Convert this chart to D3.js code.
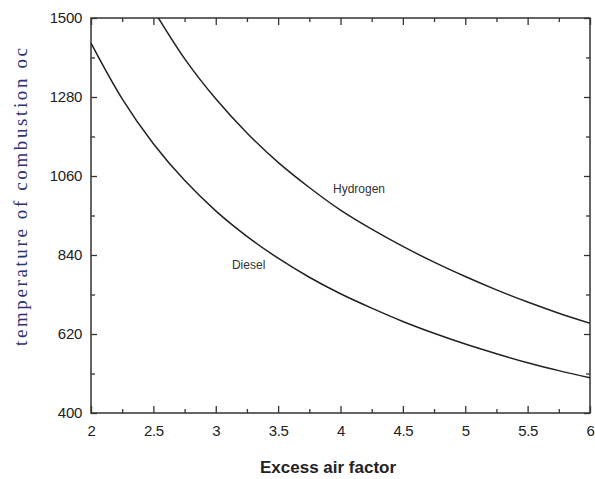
<!DOCTYPE html>
<html>
<head>
<meta charset="utf-8">
<title>Combustion temperature</title>
<script src="https://d3js.org/d3.v7.min.js"></script>
<style>
  body { margin: 0; background: #fff; }
  svg text { font-family: "Liberation Sans", Arial, sans-serif; }
</style>
</head>
<body>
<svg id="chart" width="595" height="479"></svg>
<script>
// excess air factor (lambda) read at quarter steps
var lambdaDiesel = [2, 2.25, 2.5, 2.75, 3, 3.25, 3.5, 3.75, 4, 4.25, 4.5, 4.75, 5, 5.25, 5.5, 5.75, 6];
var tempDiesel   = [1430, 1275, 1150, 1048, 963, 892, 831, 778, 732, 692, 655, 622, 592, 565, 540, 518, 498];

var lambdaHydrogen = [2.5, 2.75, 3, 3.25, 3.5, 3.75, 4, 4.25, 4.5, 4.75, 5, 5.25, 5.5, 5.75, 6];
var tempHydrogen   = [1523, 1387, 1275, 1180, 1098, 1028, 965, 912, 864, 820, 780, 743, 709, 678, 650];

var xTicks = [2, 2.5, 3, 3.5, 4, 4.5, 5, 5.5, 6];
var yTicks = [400, 620, 840, 1060, 1280, 1500];

var margin = {top: 18, left: 91, right: 5, bottom: 66};
var width = 595 - margin.left - margin.right;
var height = 479 - margin.top - margin.bottom;

var svg = d3.select("#chart");
var g = svg.append("g").attr("transform", "translate(" + margin.left + "," + margin.top + ")");

var x = d3.scaleLinear().domain([2, 6]).range([0, width]);
var y = d3.scaleLinear().domain([400, 1500]).range([height, 0]);

// minor ticks (between majors)
var xMinor = d3.range(2.25, 6, 0.5);
var yMinor = d3.range(510, 1500, 220);

function styleAxis(sel) {
  sel.select(".domain").remove();
  sel.selectAll("line").attr("stroke", "#333").attr("stroke-width", 1.3);
}
function styleLabels(sel) {
  sel.selectAll("text").attr("font-size", 15).attr("fill", "#222").attr("letter-spacing", -0.3);
}

// bottom
g.append("g").attr("transform", "translate(0," + height + ")")
  .call(d3.axisBottom(x).tickValues(xTicks).tickSize(-7).tickPadding(12).tickFormat(d3.format("")))
  .call(styleAxis)
  .call(styleLabels);
g.append("g").attr("transform", "translate(0," + height + ")")
  .call(d3.axisBottom(x).tickValues(xMinor).tickSize(-4).tickFormat(""))
  .call(styleAxis);

// top
g.append("g")
  .call(d3.axisTop(x).tickValues(xTicks).tickSize(-7).tickFormat(""))
  .call(styleAxis);
g.append("g")
  .call(d3.axisTop(x).tickValues(xMinor).tickSize(-4).tickFormat(""))
  .call(styleAxis);

// left
g.append("g")
  .call(d3.axisLeft(y).tickValues(yTicks).tickSize(-6).tickPadding(9).tickFormat(d3.format("d")))
  .call(styleAxis)
  .call(styleLabels);
g.append("g")
  .call(d3.axisLeft(y).tickValues(yMinor).tickSize(-4).tickFormat(""))
  .call(styleAxis);

// right
g.append("g").attr("transform", "translate(" + width + ",0)")
  .call(d3.axisRight(y).tickValues(yTicks).tickSize(-6).tickFormat(""))
  .call(styleAxis);
g.append("g").attr("transform", "translate(" + width + ",0)")
  .call(d3.axisRight(y).tickValues(yMinor).tickSize(-4).tickFormat(""))
  .call(styleAxis);

// frame
g.append("rect").attr("width", width).attr("height", height)
  .attr("fill", "none").attr("stroke", "#333").attr("stroke-width", 1.5);

g.append("clipPath").attr("id", "clip")
  .append("rect").attr("width", width).attr("height", height);

var line = d3.line()
  .x(function(d) { return x(d[0]); })
  .y(function(d) { return y(d[1]); })
  .curve(d3.curveCatmullRom.alpha(0.5));

var series = [
  {name: "Diesel", pts: d3.zip(lambdaDiesel, tempDiesel)},
  {name: "Hydrogen", pts: d3.zip(lambdaHydrogen, tempHydrogen)}
];

g.selectAll("path.curve").data(series).enter()
  .append("path").attr("class", "curve")
  .attr("clip-path", "url(#clip)")
  .attr("d", function(d) { return line(d.pts); })
  .attr("fill", "none").attr("stroke", "#222").attr("stroke-width", 1.5);

// curve labels
g.append("text").attr("x", x(3.13)).attr("y", y(802))
  .attr("font-size", 12).attr("fill", "#333").text("Diesel");
g.append("text").attr("x", x(3.94)).attr("y", y(1012))
  .attr("font-size", 12).attr("fill", "#333").text("Hydrogen");

// axis titles
svg.append("text").attr("x", margin.left + x(3.9)).attr("y", 473)
  .attr("text-anchor", "middle").attr("font-size", 17).attr("font-weight", "bold")
  .attr("fill", "#222").text("Excess air factor");

svg.append("text")
  .attr("transform", "translate(27,346) rotate(-90)")
  .attr("textLength", 298).attr("lengthAdjust", "spacing")
  .style("font-family", "'Liberation Serif', 'DejaVu Serif', serif")
  .attr("font-size", 19).attr("fill", "#2b3372")
  .text("temperature of combustion oc");
</script>
</body>
</html>
